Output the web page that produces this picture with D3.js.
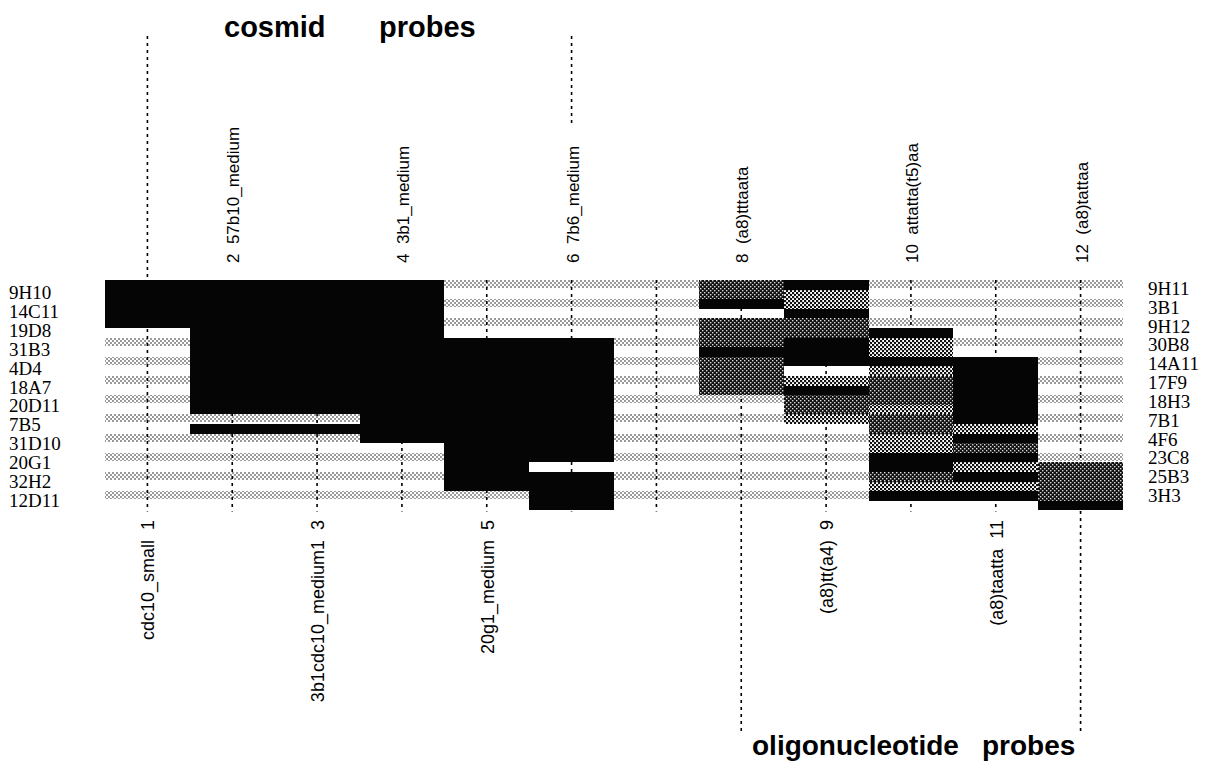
<!DOCTYPE html>
<html>
<head>
<meta charset="utf-8">
<script src="https://cdnjs.cloudflare.com/ajax/libs/d3/7.8.5/d3.min.js"></script>
<style>
  body { margin: 0; background: #fff; }
  svg { display: block; }
</style>
</head>
<body>
<svg width="1210" height="763"></svg>
<script>
// clones on the left / right side of the grid
const leftClones = ["9H10", "14C11", "19D8", "31B3", "4D4", "18A7", "20D11", "7B5", "31D10", "20G1", "32H2", "12D11"];
const rightClones = ["9H11", "3B1", "9H12", "30B8", "14A11", "17F9", "18H3", "7B1", "4F6", "23C8", "25B3", "3H3"];

// probes (columns)
const probeNums = [1, 2, 3, 4, 5, 6, 7, 8, 9, 10, 11, 12];
const probeNames = ["cdc10_small", "57b10_medium", "3b1cdc10_medium1", "3b1_medium", "20g1_medium", "7b6_medium",
                    "", "(a8)tttaata", "(a8)tt(a4)", "attatta(t5)aa", "(a8)taatta", "(a8)tattaa"];
const labelSide = ["bottom", "top", "bottom", "top", "bottom", "top", "none", "top", "bottom", "top", "bottom", "top"];

// hybridisation signal per probe: [from row, to row, level]  k = strong, d = dark, m = medium
const probe1 = [[0, 2.5, "k"]];
const probe2 = [[0, 7, "k"], [7.5, 8, "k"]];
const probe3 = [[0, 7, "k"], [7.5, 8, "k"]];
const probe4 = [[0, 8.5, "k"]];
const probe5 = [[3, 11, "k"]];
const probe6 = [[3, 9.5, "k"], [10, 12, "k"]];
const probe7 = [];
const probe8 = [[0, 1, "d"], [1, 1.5, "k"], [2, 3.5, "d"], [3.5, 4, "k"], [4, 6, "d"]];
const probe9 = [[0, 0.5, "k"], [0.5, 1.5, "m"], [1.5, 2, "k"], [2, 3, "d"], [3, 4.5, "k"], [5, 5.5, "m"],
                [5.5, 6, "k"], [6, 7, "d"], [7, 7.5, "m"]];
const probe10 = [[2.5, 3, "k"], [3, 4, "m"], [4, 4.5, "k"], [4.5, 5, "m"], [5, 6.5, "d"], [6.5, 7, "m"],
                 [7, 8, "d"], [8, 9, "m"], [9, 10, "k"], [10, 10.5, "d"], [10.5, 11, "m"], [11, 11.5, "k"]];
const probe11 = [[4, 7.5, "k"], [7.5, 8, "m"], [8, 8.5, "k"], [8.5, 9, "d"], [9, 9.5, "k"], [9.5, 10, "m"],
                 [10, 10.5, "k"], [10.5, 11, "m"], [11, 11.5, "k"]];
const probe12 = [[9.5, 11.5, "d"], [11.5, 12, "k"]];
const signals = [probe1, probe2, probe3, probe4, probe5, probe6, probe7, probe8, probe9, probe10, probe11, probe12];

const svg = d3.select("svg");

// halftone fills
const defs = svg.append("defs");
function halftone(id, back, front, size) {
    const p = defs.append("pattern")
        .attr("id", id)
        .attr("patternUnits", "userSpaceOnUse")
        .attr("width", 4).attr("height", 4);
    p.append("rect").attr("width", 4).attr("height", 4).attr("fill", back);
    p.append("rect").attr("x", 0).attr("y", 0).attr("width", size).attr("height", size).attr("fill", front);
    p.append("rect").attr("x", 2).attr("y", 2).attr("width", size).attr("height", size).attr("fill", front);
}
halftone("light", "#fff", "#9a9a9a", 2);
halftone("mid", "#fff", "#111", 2.2);
halftone("dark", "#111", "#d8d8d8", 1.4);
const fills = {k: "#050505", d: "url(#dark)", m: "url(#mid)"};

// scales
const x = d3.scaleBand()
    .domain(probeNums)
    .range([105, 1123]);
const bw = x.bandwidth();
const cx = n => x(n) + bw / 2;
const leftEdge = n => Math.round(x(n));
const rightEdge = n => Math.round(n < probeNums.length ? x(n + 1) : x.range()[1]);

const y = d3.scaleLinear()
    .domain([0, 12])
    .range([280, 510.4]);

const yLeft = d3.scalePoint().domain(leftClones).range([299, 507]);
const yRight = d3.scalePoint().domain(rightClones).range([295, 502]);

// background stripes (one per clone row)
svg.append("g")
    .attr("shape-rendering", "crispEdges")
    .selectAll("rect")
    .data(d3.range(12))
    .enter().append("rect")
    .attr("x", x.range()[0])
    .attr("y", d => y(d))
    .attr("width", x.range()[1] - x.range()[0])
    .attr("height", d => y(d + 0.42) - y(d))
    .attr("fill", "url(#light)");

// dotted probe guides
const guides = svg.append("g")
    .attr("stroke", "#000")
    .attr("stroke-width", 1.6)
    .attr("stroke-dasharray", "3,4");

guides.selectAll("line.col")
    .data(probeNums)
    .enter().append("line")
    .attr("class", "col")
    .attr("x1", d => cx(d)).attr("x2", d => cx(d))
    .attr("y1", y(0)).attr("y2", y(12) + 1);

// group brackets: probe, top, bottom
const groupGuides = [[1, 36, 280], [6, 36, 124], [8, 511, 732], [12, 511, 732]];
guides.selectAll("line.grp")
    .data(groupGuides)
    .enter().append("line")
    .attr("class", "grp")
    .attr("x1", d => cx(d[0])).attr("x2", d => cx(d[0]))
    .attr("y1", d => d[1]).attr("y2", d => d[2]);

// signal blocks
const cells = [];
signals.forEach((segs, i) => segs.forEach(s => cells.push({probe: probeNums[i], from: s[0], to: s[1], lvl: s[2]})));

svg.append("g")
    .attr("shape-rendering", "crispEdges")
    .selectAll("rect")
    .data(cells)
    .enter().append("rect")
    .attr("x", d => leftEdge(d.probe))
    .attr("y", d => Math.round(y(d.from)))
    .attr("width", d => rightEdge(d.probe) - leftEdge(d.probe))
    .attr("height", d => Math.round(y(d.to)) - Math.round(y(d.from)))
    .attr("fill", d => fills[d.lvl]);

// clone labels
svg.append("g").selectAll("text")
    .data(leftClones)
    .enter().append("text")
    .attr("x", 9)
    .attr("y", d => yLeft(d))
    .attr("font-family", "'Liberation Serif', 'Times New Roman', serif")
    .attr("font-size", "19px")
    .text(d => d);

svg.append("g").selectAll("text")
    .data(rightClones)
    .enter().append("text")
    .attr("x", 1148)
    .attr("y", d => yRight(d))
    .attr("font-family", "'Liberation Serif', 'Times New Roman', serif")
    .attr("font-size", "19px")
    .text(d => d);

// probe labels
const probes = probeNums.map((n, i) => ({n: n, name: probeNames[i], side: labelSide[i]}));

svg.append("g").selectAll("text")
    .data(probes.filter(d => d.side === "top"))
    .enter().append("text")
    .attr("transform", d => `translate(${cx(d.n) + 7}, 263) rotate(-90)`)
    .attr("font-family", "'Liberation Sans', Arial, sans-serif")
    .attr("font-size", "17px")
    .attr("text-anchor", "start")
    .style("white-space", "pre")
    .text(d => `${d.n}  ${d.name}`);

svg.append("g").selectAll("text")
    .data(probes.filter(d => d.side === "bottom"))
    .enter().append("text")
    .attr("transform", d => `translate(${cx(d.n) + 7}, 520) rotate(-90)`)
    .attr("font-family", "'Liberation Sans', Arial, sans-serif")
    .attr("font-size", "18px")
    .attr("text-anchor", "end")
    .style("white-space", "pre")
    .text(d => `${d.name}  ${d.n}`);

// group titles
const titleFont = "'Liberation Sans', Arial, sans-serif";
svg.append("text").attr("x", 224).attr("y", 37)
    .attr("font-family", titleFont).attr("font-weight", "bold").attr("font-size", "29px")
    .text("cosmid");
svg.append("text").attr("x", 379).attr("y", 37)
    .attr("font-family", titleFont).attr("font-weight", "bold").attr("font-size", "29px")
    .text("probes");
svg.append("text").attr("x", 752).attr("y", 755)
    .attr("font-family", titleFont).attr("font-weight", "bold").attr("font-size", "28px")
    .text("oligonucleotide");
svg.append("text").attr("x", 982).attr("y", 755)
    .attr("font-family", titleFont).attr("font-weight", "bold").attr("font-size", "28px")
    .text("probes");
</script>
</body>
</html>
